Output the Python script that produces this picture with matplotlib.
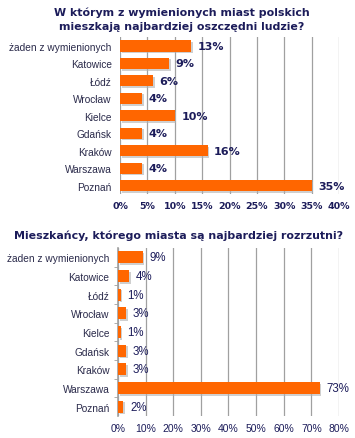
import matplotlib.pyplot as plt
import matplotlib.patheffects as pe

# Data
cities = ["żaden z wymienionych", "Katowice", "Łódź", "Wrocław", "Kielce",
          "Gdańsk", "Kraków", "Warszawa", "Poznań"]
thrifty = [13, 9, 6, 4, 10, 4, 16, 4, 35]
spendthrift = [9, 4, 1, 3, 1, 3, 3, 73, 2]
ticks_top = [0, 5, 10, 15, 20, 25, 30, 35, 40]
ticks_bottom = [0, 10, 20, 30, 40, 50, 60, 70, 80]

title_top = "W którym z wymienionych miast polskich\nmieszkają najbardziej oszczędni ludzie?"
title_bottom = "Mieszkańcy, którego miasta są najbardziej rozrzutni?"

BAR = "#ff6600"
NAVY = "#1c1c5a"
GRID = "#a0a0a0"
shadow = [pe.SimplePatchShadow(offset=(1.2, -1.2), shadow_rgbFace="#b0b0b0", alpha=0.6), pe.Normal()]

fig = plt.figure(figsize=(3.55, 4.39), dpi=100)
fig.patch.set_facecolor("white")


def draw_panel(ax, values, ticks, bold):
    y = range(len(cities))
    bars = ax.barh(y, values, height=0.64, color=BAR, zorder=3)
    for b in bars:
        b.set_path_effects(shadow)
    ax.set_ylim(len(cities) - 0.5, -0.5)
    ax.set_xlim(ticks[0], ticks[-1])
    ax.set_xticks(ticks)
    weight = "bold" if bold else "normal"
    fam = "DejaVu Sans" if bold else "Liberation Sans"
    ax.set_xticklabels([f"{t}%" for t in ticks], fontsize=6.8 if bold else 7.5,
                       fontweight=weight, family=fam, color=NAVY)
    ax.set_yticks(list(y))
    ax.set_yticklabels(cities, fontsize=7.3, family="Liberation Sans", color="#2a2a4a")
    ax.grid(axis="x", color=GRID, linewidth=0.9, zorder=0)
    for s in ("top", "right", "bottom"):
        ax.spines[s].set_visible(False)
    ax.tick_params(axis="x", length=0, pad=5)
    span = ticks[-1] - ticks[0]
    for yi, v in zip(y, values):
        ax.text(v + span * 0.03, yi, f"{v}%", va="center", ha="left",
                fontsize=8 if bold else 8.3, fontweight=weight, family=fam,
                color=NAVY, zorder=4)


ax1 = fig.add_axes([0.338, 0.555, 0.617, 0.358])
draw_panel(ax1, thrifty, ticks_top, True)
ax1.spines["left"].set_visible(False)
ax1.tick_params(axis="y", length=0, pad=6)

ax2 = fig.add_axes([0.332, 0.05, 0.623, 0.383])
draw_panel(ax2, spendthrift, ticks_bottom, False)
ax2.spines["left"].set_color(GRID)
ax2.spines["left"].set_linewidth(1.2)
ax2.set_yticks([i + 0.5 for i in range(len(cities) - 1)], minor=True)
ax2.tick_params(axis="y", which="major", length=0, pad=6)
ax2.tick_params(axis="y", which="minor", length=3, color=GRID, direction="out")

fig.text(0.512, 0.955, title_top, ha="center", va="center", fontsize=7.9,
         fontweight="bold", color=NAVY, linespacing=1.5)
fig.text(0.502, 0.462, title_bottom, ha="center", va="center", fontsize=7.9,
         fontweight="bold", color=NAVY)

fig.savefig("out.png", dpi=100)
